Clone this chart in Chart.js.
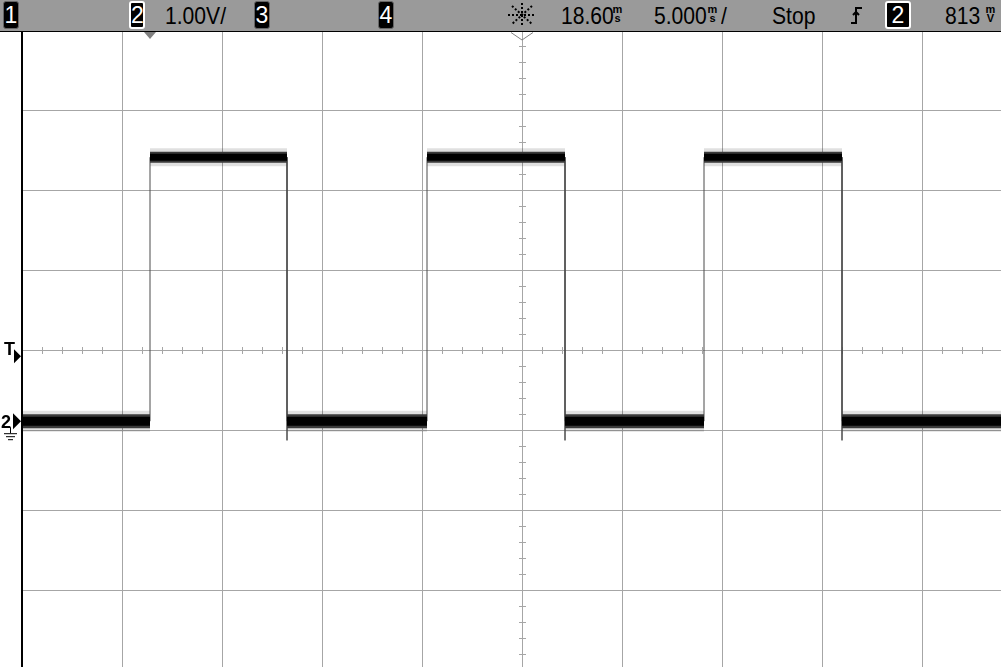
<!DOCTYPE html>
<html>
<head>
<meta charset="utf-8">
<script src="https://cdn.jsdelivr.net/npm/chart.js@4.4.1/dist/chart.umd.min.js"></script>
<style>
    html, body { margin: 0; padding: 0; background: #fff; overflow: hidden; }
    #wrap { position: relative; width: 1001px; height: 667px; overflow: hidden; }
    #scope { position: absolute; left: 0; top: 0; }
    #bar {
        position: absolute; left: 0; top: 0; width: 1001px; height: 31px;
        background: #9a9a9a; border-bottom: 1px solid #000;
        font-family: "Liberation Sans", Arial, sans-serif; color: #000;
    }
    .t { position: absolute; top: 0; line-height: 31px; font-size: 24px; white-space: nowrap;
         transform: scaleX(0.88); transform-origin: 0 0; }
    .box {
        position: absolute; top: 1px; height: 28px; box-sizing: border-box;
        background: #000; color: #fff; border: 1px solid #666; border-radius: 3px;
        text-align: center; line-height: 27px; font-size: 23px; overflow: hidden;
    }
    .box.on { border: 2px solid #fff; line-height: 25px; }
    .unit { position: absolute; top: 5px; width: 13px; font-size: 11px; font-weight: bold; line-height: 9px; text-align: center; }
</style>
</head>
<body>
<div id="wrap">
    <canvas id="scope" width="1022" height="670"></canvas>
    <div id="bar">
        <div class="box" style="left:3px;width:16px">1</div>
        <div class="box on" style="left:129px;width:16px">2</div>
        <div class="t" style="left:165px">1.00V/</div>
        <div class="box" style="left:254px;width:16px">3</div>
        <div class="box" style="left:378px;width:16px">4</div>
        <svg style="position:absolute;left:0;top:0" width="1001" height="31">
            <g stroke="#000" stroke-width="2" stroke-dasharray="2 2">
                <line x1="508" y1="15" x2="536" y2="15"/>
                <line x1="522" y1="3" x2="522" y2="27"/>
                <line x1="512" y1="6" x2="532" y2="24"/>
                <line x1="532" y1="6" x2="512" y2="24"/>
            </g>
            <path d="M851 23 H856 V8 H862 M853 15 L856 12 L859 15" fill="none" stroke="#000" stroke-width="2"/>
        </svg>
        <div class="t" style="left:561px">18.60</div>
        <div class="unit" style="left:611px">m<br>s</div>
        <div class="t" style="left:654px">5.000</div>
        <div class="unit" style="left:706px">m<br>s</div>
        <div class="t" style="left:721px">/</div>
        <div class="t" style="left:772px">Stop</div>
        <div class="box on" style="left:885px;width:26px">2</div>
        <div class="t" style="left:945px">813</div>
        <div class="unit" style="left:984px">m<br>V</div>
    </div>
</div>
<script>
// scope settings
const timePerDiv = 5;        // ms/div
const timeCenter = 18.6;     // ms, delay at screen centre
const voltsPerDiv = 1;       // V/div
const voltCenter = 0.89;     // V at the centre line (channel 2 offset)
const triggerLevel = 0.813;  // V
const triggerTime = 0;       // ms

// captured trace of channel 2 (ms, V)
const timeMs = [-6.4, 0, 0, 6.85, 6.85, 6.85, 13.85, 13.85, 20.75, 20.75, 20.75, 27.7, 27.7, 34.6, 34.6, 34.6, 43.6];
const volts  = [0, 0, 3.3, 3.3, -0.24, 0, 0, 3.3, 3.3, -0.24, 0, 0, 3.3, 3.3, -0.24, 0, 0];

const divsX = [-5, -4, -3, -2, -1, 0, 1, 2, 3, 4, 5];
const divsY = [-4, -3, -2, -1, 0, 1, 2, 3, 4];

const xGrid = divsX.map(d => timeCenter + d * timePerDiv);
const yGrid = divsY.map(d => voltCenter + d * voltsPerDiv);

const trace = timeMs.map((t, i) => ({ x: t, y: volts[i] }));

// flat parts of the trace, split into high and low runs (null between them)
function plateaus(wantHigh) {
    const out = [];
    for (let i = 0; i < timeMs.length - 1; i++) {
        if (volts[i] === volts[i + 1] && timeMs[i] !== timeMs[i + 1] && (volts[i] > 1) === wantHigh) {
            out.push({ x: timeMs[i], y: volts[i] }, { x: timeMs[i + 1], y: volts[i + 1] }, { x: timeMs[i + 1], y: null });
        }
    }
    return out;
}
const highRuns = plateaus(true);
const lowRuns = plateaus(false);

function band(data, width, color, order) {
    return { data: data, borderColor: color, borderWidth: width, borderCapStyle: 'butt',
             pointRadius: 0, tension: 0, spanGaps: false, order: order };
}

const scopeOverlay = {
    id: 'scopeOverlay',
    beforeDatasetsDraw(chart) {
        const ctx = chart.ctx;
        const xs = chart.scales.x, ys = chart.scales.y;
        const cx = xs.getPixelForValue(timeCenter), cy = ys.getPixelForValue(voltCenter);
        ctx.save();
        ctx.strokeStyle = '#a6a6a6';
        ctx.lineWidth = 1;
        ctx.beginPath();
        for (let k = -25; k <= 25; k++) {
            const x = Math.round(xs.getPixelForValue(timeCenter + k * timePerDiv / 5)) + 0.5;
            ctx.moveTo(x, cy - 3); ctx.lineTo(x, cy + 4);
        }
        for (let k = -20; k <= 20; k++) {
            const y = Math.round(ys.getPixelForValue(voltCenter + k * voltsPerDiv / 5)) + 0.5;
            ctx.moveTo(cx - 3, y); ctx.lineTo(cx + 4, y);
        }
        ctx.stroke();
        ctx.restore();
    },
    afterDraw(chart) {
        const ctx = chart.ctx;
        const xs = chart.scales.x, ys = chart.scales.y;
        const area = chart.chartArea;
        ctx.save();
        // left frame
        ctx.fillStyle = '#000';
        ctx.fillRect(area.left - 1, area.top, 2, area.bottom - area.top);

        // trigger point and time reference markers under the status bar
        const tx = xs.getPixelForValue(triggerTime);
        ctx.fillStyle = '#808080';
        ctx.beginPath();
        ctx.moveTo(tx - 6, 32); ctx.lineTo(tx + 6, 32); ctx.lineTo(tx, 39); ctx.closePath();
        ctx.fill();
        const rx = xs.getPixelForValue(timeCenter);
        ctx.strokeStyle = '#808080';
        ctx.lineWidth = 1;
        ctx.beginPath();
        ctx.moveTo(rx - 11, 32.5); ctx.lineTo(rx, 40); ctx.lineTo(rx + 11, 32.5);
        ctx.stroke();

        // trigger level marker
        const ty = ys.getPixelForValue(triggerLevel);
        ctx.fillStyle = '#000';
        ctx.font = 'bold 18px "Liberation Sans", Arial, sans-serif';
        ctx.textBaseline = 'alphabetic';
        ctx.fillText('T', 4, ty - 1);
        ctx.beginPath();
        ctx.moveTo(14, ty - 7); ctx.lineTo(21, ty); ctx.lineTo(14, ty + 7); ctx.closePath();
        ctx.fill();

        // channel 2 ground marker
        const gy = ys.getPixelForValue(0);
        ctx.fillText('2', 1, gy + 7);
        ctx.beginPath();
        ctx.moveTo(13, gy - 8); ctx.lineTo(21, gy); ctx.lineTo(13, gy + 8); ctx.closePath();
        ctx.fill();
        ctx.lineWidth = 1;
        ctx.strokeStyle = '#000';
        ctx.beginPath();
        ctx.moveTo(10.5, gy + 6); ctx.lineTo(10.5, gy + 12);
        ctx.moveTo(4, gy + 12.5); ctx.lineTo(17, gy + 12.5);
        ctx.moveTo(6, gy + 15.5); ctx.lineTo(15, gy + 15.5);
        ctx.moveTo(8, gy + 18.5); ctx.lineTo(13, gy + 18.5);
        ctx.stroke();
        ctx.restore();
    }
};

const ctx = document.getElementById('scope').getContext('2d');
const scopeChart = new Chart(ctx, {
    type: 'line',
    data: {
        datasets: [
            band(highRuns, 18, 'rgba(0,0,0,0.12)', 6),
            band(lowRuns, 21, 'rgba(0,0,0,0.12)', 5),
            { data: trace, borderColor: '#4a4a4a', borderWidth: 1, pointRadius: 0, tension: 0, order: 4 },
            band(highRuns, 11, '#3a3a3a', 3),
            band(lowRuns, 14, '#3a3a3a', 2),
            band(highRuns, 7, '#000', 1),
            band(lowRuns, 9, '#000', 0)
        ]
    },
    options: {
        responsive: false,
        animation: false,
        events: [],
        layout: { padding: { left: 22, top: 30, right: 0, bottom: 0 } },
        plugins: { legend: { display: false }, tooltip: { enabled: false } },
        scales: {
            x: {
                type: 'linear',
                min: xGrid[0], max: xGrid[xGrid.length - 1],
                afterBuildTicks(scale) { scale.ticks = xGrid.map(v => ({ value: v })); },
                afterFit(scale) { scale.height = 0; },
                ticks: { display: false },
                grid: { color: '#a6a6a6', lineWidth: 1, drawTicks: false },
                border: { display: false }
            },
            y: {
                type: 'linear',
                min: yGrid[0], max: yGrid[yGrid.length - 1],
                afterBuildTicks(scale) { scale.ticks = yGrid.map(v => ({ value: v })); },
                afterFit(scale) { scale.width = 0; },
                ticks: { display: false },
                grid: { color: '#a6a6a6', lineWidth: 1, drawTicks: false },
                border: { display: false }
            }
        }
    },
    plugins: [scopeOverlay]
});
</script>
</body>
</html>
